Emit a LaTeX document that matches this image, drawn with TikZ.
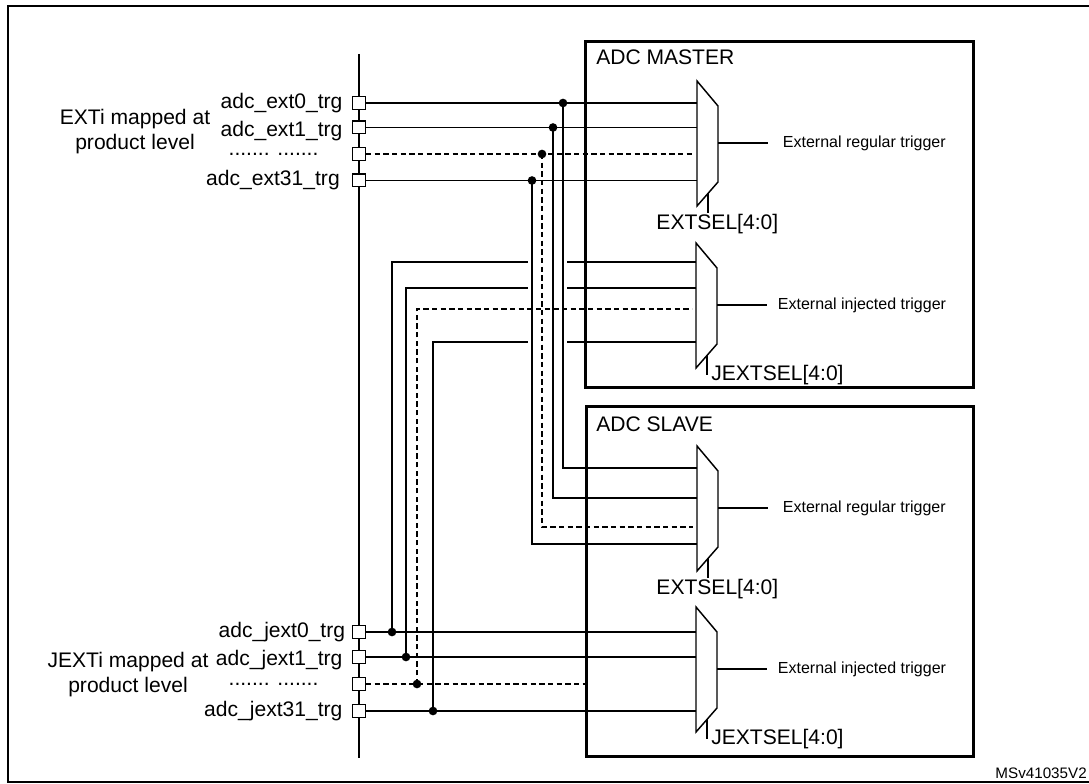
\documentclass[tikz,border=0pt]{standalone}
\usepackage{fontspec}
\setmainfont{Liberation Sans}
\usetikzlibrary{positioning}

\tikzset{
  pin/.style={draw, fill=white, line width=1pt, inner sep=0pt, minimum size=9.5pt},
  wire/.style={line width=1.1pt},
  dashwire/.style={wire, dash pattern=on 4pt off 2.5pt},
  adcbox/.style={draw, line width=2.2pt, anchor=north west, inner sep=0pt},
  jnc/.style={circle, fill, inner sep=0pt, minimum size=6.5pt},
  lbl/.style={inner sep=0pt, font=\fontsize{15.8}{18.8}\selectfont},
  note/.style={inner sep=0pt, font=\fontsize{12}{14}\selectfont},
  tag/.style={inner sep=0pt, anchor=east, font=\fontsize{11.4}{13}\selectfont}
}

\begin{document}
\begin{tikzpicture}[x=0.75pt, y=-0.75pt]
    \useasboundingbox (0,0) rectangle (1089,784);
    \draw [line width=1.4pt] (8,6) rectangle (1089.5,782);

    \node [adcbox, minimum width=291pt, minimum height=259.5pt] (master) at (584,40) {};
    \node [adcbox, minimum width=290.25pt, minimum height=262.5pt] (slave) at (585,405) {};
    \node [lbl, anchor=west] (mtitle) at (596,57) {ADC MASTER};
    \node [lbl, anchor=west] (stitle) at (596,424) {ADC SLAVE};

    \coordinate (bustop) at (359,54);
    \coordinate (busbot) at (359,758);
    \draw [line width=2.2pt] (bustop) -- (busbot);

    \foreach \m/\x/\y in {mr/697/81, mj/696/243, sr/697/446, sj/696/607} {
      \begin{scope}[shift={(\x,\y)}]
        \coordinate (\m-in) at (0,0);
        \coordinate (\m-out) at (21,62);
        \coordinate (\m-end) at (71,62);
        \coordinate (\m-sel) at (11,112.4);
        \coordinate (\m-sb) at (11,132);
        \draw [wire] (0,0) -- (21,25) -- (21,101) -- (0,125) -- cycle;
        \draw [wire] (\m-out) -- (\m-end);
        \draw [wire] (\m-sel) -- (\m-sb);
      \end{scope}
    }

    \foreach \n/\y in {e0/103, e1/127.5, ed/154, e31/180.5, j0/632, j1/657, jd/684, j31/711} {
      \node [pin] (\n) at (359,\y) {};
    }
    \foreach \n/\x in {v0/563, v1/553, vd/542, v31/532, w0/392, w1/406, wd/417, w31/433} {
      \coordinate (\n) at (\x,0);
    }
    \foreach \n/\y in {sr0/468, sr1/498, srd/527, sr31/544} {
      \coordinate (\n) at (697,\y);
    }
    \foreach \n/\y in {mj0/262, mj1/288, mjd/309, mj31/342} {
      \coordinate (\n) at (696,\y);
    }
    \coordinate (gapl) at (528,0);
    \coordinate (gapr) at (567,0);

    \foreach \p in {e0, e1, e31} {
      \draw [wire] (\p.east) -- (\p -| mr-in);
    }
    \draw [dashwire, shorten >=3pt] (ed.east) -- (ed -| mr-in);
    \foreach \p/\v/\t in {e0/v0/sr0, e1/v1/sr1, e31/v31/sr31} {
      \draw [wire] (\p -| \v) |- (\t);
    }
    \draw [dashwire, shorten >=3pt] (ed -| vd) |- (srd);

    \foreach \p/\w/\t in {j0/w0/mj0, j1/w1/mj1, j31/w31/mj31} {
      \draw [wire] (\p -| \w) |- (\t -| gapl);
      \draw [wire] (\t -| gapr) -- (\t);
    }
    \draw [dashwire, shorten >=3pt] (jd -| wd) |- (mjd);

    \foreach \p in {j0, j1, j31} {
      \draw [wire] (\p.east) -- (\p -| sj-in);
    }
    \draw [dashwire] (jd.east) -- (jd -| slave.west);

    \node [jnc] (x0) at (e0 -| v0) {};
    \node [jnc] (x1) at (e1 -| v1) {};
    \node [jnc] (xd) at (ed -| vd) {};
    \node [jnc] (x31) at (e31 -| v31) {};
    \node [jnc] (y0) at (j0 -| w0) {};
    \node [jnc] (y1) at (j1 -| w1) {};
    \node [jnc] (yd) at (jd -| wd) {};
    \node [jnc] (y31) at (j31 -| w31) {};

    \node [lbl, left=7pt of e0] (le0) {adc\_ext0\_trg};
    \node [lbl, left=7pt of e1, yshift=-2.5pt] (le1) {adc\_ext1\_trg};
    \node [lbl, left=25pt of ed] (led) {....... .......};
    \node [lbl, left=9pt of e31] (le31) {adc\_ext31\_trg};
    \node [lbl, align=center] (extmap) at (135,132) {EXTi mapped at\\product level};

    \node [lbl, left=5pt of j0] (lj0) {adc\_jext0\_trg};
    \node [lbl, left=7pt of j1, yshift=-2.5pt] (lj1) {adc\_jext1\_trg};
    \node [lbl, left=25pt of jd] (ljd) {....... .......};
    \node [lbl, left=7pt of j31] (lj31) {adc\_jext31\_trg};
    \node [lbl, align=center] (jextmap) at (128,675) {JEXTi mapped at\\product level};

    \node [lbl, below=1pt of mr-sb, xshift=7pt] (mrsel) {EXTSEL[4:0]};
    \node [lbl, below=1pt of sr-sb, xshift=7pt] (srsel) {EXTSEL[4:0]};
    \node [lbl, right=3pt of mj-sb] (mjsel) {JEXTSEL[4:0]};
    \node [lbl, right=3pt of sj-sb] (sjsel) {JEXTSEL[4:0]};

    \node [note, right=11pt of mr-end] (mrtrg) {External regular trigger};
    \node [note, right=11pt of sr-end] (srtrg) {External regular trigger};
    \node [note, right=8pt of mj-end] (mjtrg) {External injected trigger};
    \node [note, right=8pt of sj-end] (sjtrg) {External injected trigger};

    \node [tag] (ref) at (1087,773) {MSv41035V2};
\end{tikzpicture}
\end{document}
